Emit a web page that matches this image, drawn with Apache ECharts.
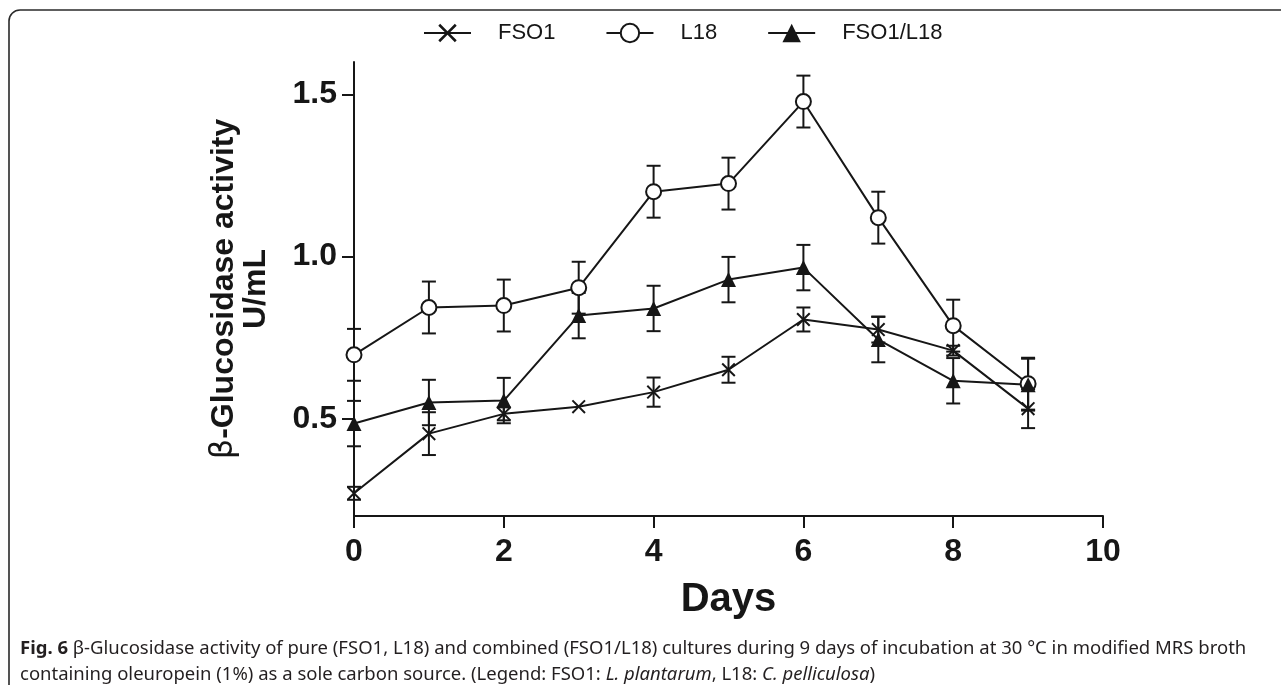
<!DOCTYPE html>
<html>
<head>
<meta charset="utf-8">
<script src="https://cdn.jsdelivr.net/npm/echarts@6/dist/echarts.min.js"></script>
<style>
  html, body { margin: 0; padding: 0; background: #fff; }
  #chart { width: 1281px; height: 685px; }
</style>
</head>
<body>
<div id="chart"></div>
<script>
(function () {
    // days of incubation
    var days = [0, 1, 2, 3, 4, 5, 6, 7, 8, 9];

    // beta-glucosidase activity (U/mL) and error bars
    var fso1 = [0.27, 0.454, 0.515, 0.537, 0.582, 0.651, 0.806, 0.775, 0.71, 0.531];
    var fso1Err = [0.02, 0.066, 0.02, 0, 0.045, 0.04, 0.037, 0.04, 0.015, 0.06];

    var l18 = [0.697, 0.843, 0.849, 0.904, 1.2, 1.225, 1.478, 1.12, 0.787, 0.608];
    var l18Err = [0.08, 0.08, 0.08, 0.08, 0.08, 0.08, 0.08, 0.08, 0.08, 0.08];

    var combo = [0.485, 0.55, 0.556, 0.818, 0.84, 0.929, 0.966, 0.744, 0.617, 0.605];
    var comboErr = [0.07, 0.07, 0.07, 0.07, 0.07, 0.07, 0.07, 0.07, 0.07, 0.08];

    var yTicks = [0.5, 1.0, 1.5];

    var ink = '#161616';
    var crossPath = 'path://M0,1L1,0L5,4L9,0L10,1L6,5L10,9L9,10L5,6L1,10L0,9L4,5Z';

    function pairs(vals, errs) {
        return days.map(function (d, i) { return [d, vals[i], errs[i]]; });
    }

    // error bar with caps
    function drawErr(params, api) {
        var x = api.value(0), y = api.value(1), e = api.value(2);
        if (!e) return;
        var hi = api.coord([x, y + e]);
        var lo = api.coord([x, y - e]);
        var w = 7;
        var st = { stroke: ink, lineWidth: 2 };
        return {
            type: 'group',
            children: [
                { type: 'line', shape: { x1: hi[0], y1: hi[1], x2: lo[0], y2: lo[1] }, style: st },
                { type: 'line', shape: { x1: hi[0] - w, y1: hi[1], x2: hi[0] + w, y2: hi[1] }, style: st },
                { type: 'line', shape: { x1: lo[0] - w, y1: lo[1], x2: lo[0] + w, y2: lo[1] }, style: st }
            ]
        };
    }

    function errSeries(name, vals, errs) {
        return {
            name: name,
            type: 'custom',
            renderItem: drawErr,
            data: pairs(vals, errs),
            encode: { x: 0, y: 1 },
            clip: false,
            z: 1,
            silent: true
        };
    }

    function lineSeries(name, vals, symbol, size, fill) {
        return {
            name: name,
            type: 'line',
            data: days.map(function (d, i) { return [d, vals[i]]; }),
            symbol: symbol,
            symbolSize: size,
            showAllSymbol: true,
            z: 2,
            lineStyle: { color: ink, width: 2 },
            itemStyle: { color: fill, borderColor: ink, borderWidth: symbol === 'circle' ? 2 : 0 }
        };
    }

    var axisFont = { fontFamily: 'Liberation Sans, Arial, sans-serif', fontWeight: 'bold', color: ink };

    var option = {
        animation: false,
        backgroundColor: '#fff',
        grid: { left: 354, right: 178, top: 62, bottom: 169 },
        legend: {
            data: ['FSO1', 'L18', 'FSO1/L18'],
            left: 423,
            top: 22,
            padding: 0,
            itemWidth: 47,
            itemHeight: 23,
            itemGap: 50,
            textStyle: {
                fontFamily: 'Liberation Sans, Arial, sans-serif',
                fontSize: 22,
                color: ink,
                padding: [0, 0, 0, 22]
            }
        },
        xAxis: {
            type: 'value',
            min: 0,
            max: 10,
            interval: 2,
            name: 'Days',
            nameLocation: 'middle',
            nameGap: 64,
            nameTextStyle: { fontFamily: 'Liberation Sans, Arial, sans-serif', fontWeight: 'bold', fontSize: 40, color: ink },
            axisLine: { lineStyle: { color: ink, width: 2 } },
            axisTick: { length: 12, lineStyle: { color: ink, width: 2 } },
            axisLabel: Object.assign({ fontSize: 32, margin: 20 }, axisFont),
            splitLine: { show: false }
        },
        yAxis: {
            type: 'value',
            min: 0.2,
            max: 1.6,
            name: '{g|β}-Glucosidase activity\nU/mL',
            nameLocation: 'middle',
            nameRotate: 90,
            nameGap: 82,
            nameTextStyle: {
                fontFamily: 'Liberation Sans, Arial, sans-serif',
                fontWeight: 'bold',
                fontSize: 32,
                lineHeight: 32,
                color: ink,
                rich: {
                    g: { fontFamily: 'DejaVu Sans, sans-serif', fontWeight: 'normal', fontSize: 32, lineHeight: 32, color: ink }
                }
            },
            axisLine: { show: true, lineStyle: { color: ink, width: 2 } },
            axisTick: { show: true, length: 12, customValues: yTicks, lineStyle: { color: ink, width: 2 } },
            axisLabel: Object.assign({
                fontSize: 32,
                margin: 17,
                customValues: yTicks,
                formatter: function (v) { return v.toFixed(1); }
            }, axisFont),
            splitLine: { show: false }
        },
        graphic: [
            {
                type: 'rect',
                silent: true,
                shape: { x: 9, y: 10, width: 1400, height: 800, r: 11 },
                style: { fill: 'none', stroke: '#2a2a2a', lineWidth: 1.6 }
            },
            {
                type: 'text',
                left: 20,
                top: 636,
                silent: true,
                style: {
                    text: '{fb|Fig. 6} β-Glucosidase activity of pure (FSO1, L18) and combined (FSO1/L18) cultures during 9 days of incubation at 30 °C in modified MRS broth\n' +
                          'containing oleuropein (1%) as a sole carbon source. (Legend: FSO1: {i|L. plantarum}, L18: {i|C. pelliculosa})',
                    fontFamily: 'Noto Sans, sans-serif',
                    fontSize: 18.5,
                    lineHeight: 26,
                    fill: '#231f20',
                    rich: {
                        fb: { fontFamily: 'Noto Sans, sans-serif', fontSize: 18.5, fontWeight: 'bold', fill: '#231f20' },
                        i: { fontFamily: 'Noto Sans, sans-serif', fontSize: 18.5, fontStyle: 'italic', fill: '#231f20' }
                    }
                }
            }
        ],
        series: [
            errSeries('FSO1 err', fso1, fso1Err),
            errSeries('L18 err', l18, l18Err),
            errSeries('FSO1/L18 err', combo, comboErr),
            lineSeries('FSO1', fso1, crossPath, 14, ink),
            lineSeries('L18', l18, 'circle', 15, '#fff'),
            lineSeries('FSO1/L18', combo, 'triangle', 15, ink)
        ]
    };

    var myChart = echarts.init(document.getElementById('chart'));
    myChart.setOption(option);
})();
</script>
</body>
</html>
